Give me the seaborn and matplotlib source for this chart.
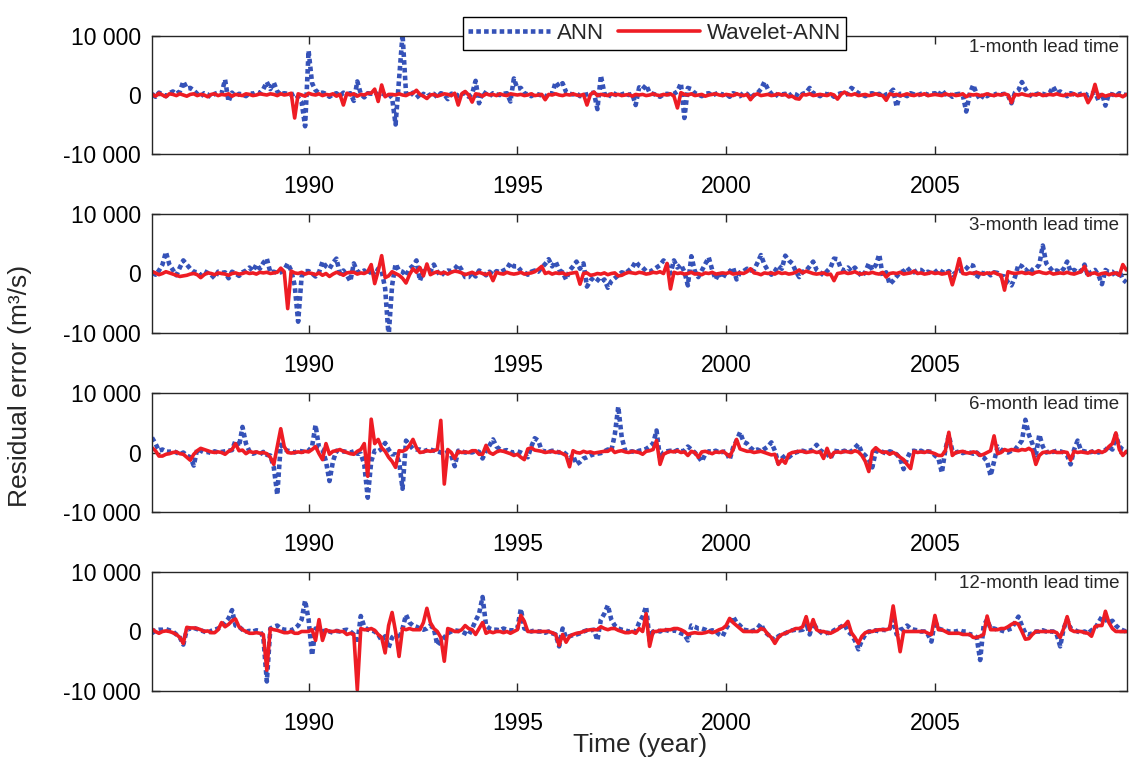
import numpy as np
import pandas as pd
import matplotlib
matplotlib.use("Agg")
import matplotlib.pyplot as plt
import seaborn as sns

# Monthly residuals, April 1986 - August 2009, in thousands of m3/s.
# One row per calendar year (first row starts in April, last row ends in August).
ann_1m = [
    [0.2, -0.3, 0.4, 0.1, -0.2, 0.3, 0.6, 0.2, 0.6],
    [2.3, 1.1, 1.2, 0.8, 0.2, -0.2, 0.3, 0.1, -0.4, 0.2, 0.4, 0.3],
    [2.6, -1.1, 0.4, -0.3, 0.2, 0.1, -0.2, 0.3, 0.2, 0.5, 0.3, 1.0],
    [2.2, 1.0, 2.1, 0.6, 0.1, 0.3, 0.2, 0.0, 0.3, -0.4, -1.2, -5.3],
    [7.5, 2.0, 0.8, 0.3, 0.4, 0.2, -0.3, 0.1, 0.3, -0.2, 0.4, 0.1],
    [0.3, -1.0, 2.3, 0.2, -0.4, 0.3, 0.2, 0.4, 0.1, 0.3, 0.0, 0.2],
    [-0.5, -5.0, 2.6, 10.3, 0.3, -0.2, 0.4, 0.1, -0.6, 0.2, -0.3, 0.1],
    [0.2, -0.4, 0.3, 0.1, -0.7, 0.2, 0.3, -0.2, 0.1, 0.4, -0.3, 0.2],
    [2.4, -1.4, 0.6, 0.2, -0.2, 0.3, 0.1, 0.0, 0.2, 0.3, -1.1, 2.8],
    [1.1, 1.2, 0.3, 0.1, -0.2, 0.2, 0.1, -0.1, -0.4, 0.3, 0.2, 2.2],
    [1.4, 2.0, 0.5, 0.2, 0.1, 0.3, -0.2, 0.0, 0.1, 0.3, 0.4, -2.4],
    [3.3, 0.3, -0.5, 0.4, 0.2, -0.2, 0.1, 0.3, 0.0, 0.2, -1.7, 1.3],
    [1.0, 1.7, 0.4, 0.2, 0.0, -0.3, 0.1, 0.2, 0.1, 0.2, 0.6, 2.0],
    [-3.9, 1.2, 1.0, 0.3, 0.1, -0.2, 0.2, 0.3, -0.1, 0.2, 0.4, 0.0],
    [0.2, -0.3, 0.3, 0.1, -0.2, 0.4, 0.2, -0.5, 0.0, 0.3, 1.0, 2.2],
    [1.0, 0.2, -0.3, 0.3, 0.1, 0.2, -0.2, 0.3, 0.1, -0.3, 0.2, 0.4],
    [1.2, 0.3, 0.1, -0.2, 0.3, 0.1, 0.2, -0.3, 0.1, 0.3, 0.0, 0.2],
    [1.2, 0.8, 0.3, 0.1, -0.2, 0.2, 0.3, 0.0, 0.2, -0.3, 0.1, 0.3],
    [0.9, -2.0, 0.2, 0.1, -0.2, 0.3, 0.1, -0.1, 0.2, 0.3, 0.0, 0.2],
    [0.3, -0.2, 0.8, 0.1, 0.2, -0.3, 0.1, 0.2, 0.0, -2.8, 0.2, 1.7],
    [0.2, -0.8, 0.1, -0.2, 0.2, 0.0, 0.3, 0.1, 0.2, -0.1, -1.4, 0.4],
    [0.8, 2.2, 1.0, 0.2, -0.3, 0.1, 0.3, 0.2, 0.0, 0.4, 1.4, 0.3],
    [0.6, 0.2, -0.2, 0.3, 0.1, 0.0, 0.2, 0.3, -0.1, 0.2, 0.5, -0.9],
    [0.3, -1.8, 0.2, 0.1, -0.2, 0.3, 0.1, 0.0],
]
wann_1m = [
    [0.1, -0.2, 0.3, 0.0, -0.3, 0.2, 0.1, -0.1, 0.2],
    [0.0, -0.2, 0.1, 0.2, -0.1, 0.1, 0.0, -0.3, 0.1, 0.2, -0.1, 0.1],
    [0.0, 0.2, -0.2, 0.1, 0.0, -0.1, 0.2, 0.1, -0.1, 0.0, 0.2, 0.1],
    [0.0, 0.2, 0.1, -0.1, 0.2, 0.0, 0.1, 0.3, -3.9, 0.2, 0.0, -0.2],
    [0.3, 0.1, 0.0, 0.2, -0.1, 0.1, 0.0, 0.2, -0.2, 0.1, -1.7, 0.3],
    [0.0, 0.2, -0.2, 0.1, 0.0, 0.3, 0.3, 1.0, -1.1, 1.7, -0.3, 0.1],
    [0.1, 0.0, 0.2, 0.0, -0.1, 0.2, 0.3, 0.8, 0.1, -0.2, -0.6, 0.0],
    [0.1, -0.2, 0.0, 0.2, 0.1, -0.1, 0.3, -1.7, 0.2, 0.6, 0.0, -1.2],
    [0.2, 0.1, -0.2, 0.2, 0.0, 0.1, -0.1, 0.2, 0.0, -0.1, 0.2, 0.1],
    [0.0, 0.1, -0.1, 0.0, 0.2, -0.1, 0.0, 0.1, -0.8, 0.1, 0.0, 0.2],
    [0.0, -0.1, 0.1, 0.0, 0.2, 0.0, -0.1, 0.1, -1.7, 0.1, 0.5, -0.1],
    [0.1, 0.0, -0.1, 0.2, 0.0, 0.1, -0.1, 0.0, 0.1, -0.2, 0.1, 0.0],
    [0.1, -0.1, 0.0, 0.2, 0.0, -0.1, 0.1, 0.0, 0.2, -0.2, -2.2, 0.4],
    [0.1, 0.0, 0.2, -0.1, 0.0, 0.1, -0.2, 0.0, 0.1, 0.2, 0.0, -0.1],
    [0.1, 0.0, -0.1, 0.2, 0.0, -0.1, 0.1, -0.8, 0.0, 0.2, -0.1, 0.0],
    [0.1, -0.1, 0.0, 0.2, 0.0, 0.1, -0.3, -0.2, -0.6, -0.7, 0.1, 0.0],
    [0.2, -0.1, 0.0, 0.1, 0.0, -0.1, 0.2, 0.0, -0.7, 0.1, 0.5, 0.1],
    [0.0, 0.2, -0.1, 0.0, 0.1, -0.1, 0.0, 0.2, 0.0, -0.1, -0.9, 0.2],
    [0.0, 0.1, -0.1, 0.0, 0.2, 0.0, -0.1, 0.1, 0.0, 0.2, -0.1, 0.0],
    [0.1, 0.0, -0.1, 0.2, 0.0, 0.1, -0.1, 0.0, 0.2, -0.3, 0.1, 0.0],
    [0.1, -0.1, 0.0, 0.2, 0.0, -0.1, 0.1, 0.0, 0.2, 0.0, -1.3, 0.1],
    [0.0, 0.2, 0.0, -0.1, 0.1, 0.0, 0.2, -0.1, 0.0, 0.1, 0.0, 0.2],
    [0.0, -0.1, 0.1, 0.0, 0.2, -0.1, 0.0, 0.1, -1.3, -0.3, 1.8, -0.4],
    [0.1, -0.2, 0.0, 0.1, -0.1, 0.0, -0.3, 0.1],
]

ann_3m = [
    [0.3, -0.2, 0.5, 1.5, 3.6, 1.5, 0.6, -0.3, 1.0],
    [2.2, 1.5, 0.8, 0.3, 0.2, -0.3, 0.4, 0.1, -0.2, -0.8, 0.3, 0.1],
    [0.2, -0.8, 0.3, 0.0, -0.4, 0.2, 0.5, 1.0, 0.4, 1.5, 0.8, 1.8],
    [2.5, 0.2, 0.3, 0.1, 0.2, 0.6, 1.7, 0.5, -2.0, -8.1, -0.5, 0.4],
    [0.4, 0.0, -0.5, 0.2, 2.0, 1.2, 0.8, 1.8, 2.5, 0.0, 0.5, -0.3],
    [-1.3, 1.7, 0.3, 0.2, 0.5, -0.2, 0.6, -0.3, 0.8, 0.4, -2.5, -10.6],
    [-2.0, 1.6, 0.5, 0.3, -0.4, 0.8, 1.3, 2.2, -1.2, 0.4, 0.3, 0.3],
    [1.5, 0.3, -0.4, 0.2, 0.5, 0.4, 0.8, 1.5, 0.6, -0.6, -0.6, 0.2],
    [-0.5, 0.5, 0.2, -0.3, 0.3, -0.2, 0.4, 0.2, 0.5, 0.8, 1.8, 1.2],
    [1.2, 0.5, 0.2, -0.2, 0.3, 0.5, 0.3, 1.0, 1.6, 2.4, 1.2, 2.0],
    [0.6, 0.2, -1.0, 0.5, 1.2, 2.0, 0.8, 1.7, -2.2, -1.2, -0.6, -1.0],
    [-1.5, -1.0, -2.4, -1.3, -0.8, -0.3, 0.2, 0.0, 0.5, 1.0, 2.0, 1.3],
    [1.0, 0.4, 0.3, 0.6, 1.0, 1.4, 2.2, 1.5, 0.0, 2.2, 1.0, 1.5],
    [0.3, -2.0, 2.9, 0.4, -0.6, 0.5, 1.6, 2.7, 0.6, -1.0, 0.2, -0.8],
    [0.2, 0.3, 1.0, -1.0, 0.2, 0.4, 0.8, 0.5, 0.6, 1.8, 3.1, 1.5],
    [0.5, -0.2, 0.4, 1.3, 0.8, 3.0, 2.2, 1.7, 0.4, -0.6, 0.3, 0.5],
    [1.2, 2.0, 0.6, 0.2, -0.3, 0.4, 1.0, 2.5, 2.4, 0.8, 0.5, 1.0],
    [0.4, 1.0, 0.2, -0.5, 0.3, 1.7, 0.6, 1.4, 3.2, -0.4, 0.2, -1.8],
    [-1.2, -0.5, 0.2, 0.4, 1.0, 0.3, 0.2, 0.6, 0.6, 0.1, 0.3, 0.0],
    [0.2, 0.7, 0.3, 0.0, 0.4, -0.3, 0.2, 0.5, 0.3, 0.8, 1.5, 1.3],
    [-0.8, 0.2, 0.0, 0.3, -0.3, 0.2, 0.1, -0.4, -0.5, -1.5, -2.0, -0.6],
    [1.5, 1.2, 0.4, 1.0, 0.5, 0.8, 1.5, 4.7, 1.7, 1.0, 0.3, 0.5],
    [0.2, 0.8, 2.0, 0.3, 0.6, 0.2, 0.4, 1.5, -0.5, 0.3, 0.6, -0.3],
    [-1.8, 0.6, 0.2, 0.3, -0.6, 0.4, -1.0, -1.5],
]
wann_3m = [
    [0.3, 0.1, -0.2, 0.0, 0.3, 0.1, -0.1, -0.3, -0.5],
    [-0.4, -0.3, -0.1, 0.0, -0.2, -0.7, -0.2, 0.1, 0.0, -0.2, 0.1, 0.0],
    [-0.1, -0.3, 0.0, 0.1, -0.1, 0.0, 0.2, 0.0, 0.1, -0.1, 0.2, 0.1],
    [0.2, 0.0, 0.1, 0.2, 0.9, 0.3, -5.9, 0.4, 0.1, 0.0, 0.2, -0.1],
    [0.1, 0.0, -0.2, 0.1, -0.3, 0.0, -0.5, -0.1, 0.2, 0.0, -0.3, 0.1],
    [0.2, 0.2, -0.1, 0.1, 0.0, 0.3, 1.5, -1.7, 0.4, 3.0, -0.7, -0.4],
    [0.3, 0.0, -0.3, -0.8, -1.6, -0.2, 0.8, 0.2, 1.0, -0.4, 1.6, -0.2],
    [0.1, 0.3, 0.0, 0.2, -0.1, 0.2, 0.4, 0.3, 0.1, -0.2, 0.0, 0.2],
    [-0.1, 0.2, 0.0, -0.2, 0.1, -1.2, 0.2, 0.0, -0.1, 0.2, 0.0, -0.1],
    [0.0, 0.2, -0.1, 0.0, 0.1, 0.3, 0.7, 1.2, 0.0, 0.2, -0.1, 0.1],
    [0.0, 0.1, -0.2, 0.0, 0.1, 0.2, -1.8, 0.0, 0.1, -0.3, -0.2, 0.0],
    [-0.1, 0.1, -0.2, 0.0, 0.1, -0.4, -0.3, 0.0, 0.2, 0.1, 0.0, 0.2],
    [0.1, -0.1, 0.0, 0.2, 0.1, 0.3, 0.0, 1.7, -2.6, 0.2, 0.0, 0.1],
    [-0.1, 0.0, 0.2, -0.1, 0.0, -0.2, 0.1, 0.0, 0.2, -0.1, 0.0, 0.1],
    [0.0, 0.2, -0.1, 0.0, 0.1, 0.0, 0.3, 0.8, 0.1, 0.0, -0.2, 0.1],
    [0.0, 0.1, -0.1, 0.2, 0.0, 0.1, -0.1, 0.0, 0.2, 0.6, 0.1, 0.4],
    [0.2, 0.0, -0.1, 0.0, 0.1, -0.2, -0.1, -1.2, 0.0, 0.1, 0.2, 0.0],
    [0.1, 0.3, 0.0, -0.1, 0.1, 0.0, 0.2, 0.0, -0.1, 0.2, -0.6, 0.0],
    [0.1, 0.0, 0.2, -0.1, 0.0, 0.1, 0.4, 0.0, 0.1, -0.1, 0.0, 0.2],
    [0.0, 0.1, -0.1, 0.0, 0.2, -1.9, 0.1, 2.5, 0.0, -0.1, 0.1, 0.0],
    [0.2, 0.0, -0.1, 0.1, 0.0, 0.2, -0.1, -0.3, -2.8, 0.3, 0.1, 0.0],
    [0.1, 0.2, 0.0, 0.1, -0.1, 0.2, 0.3, 0.1, 0.0, 0.2, -0.1, 0.0],
    [0.1, 0.0, 0.2, 0.0, -0.1, 0.1, 0.3, 1.2, -0.3, 0.0, 0.1, -0.2],
    [0.0, 0.1, -0.2, 0.0, 0.1, -0.3, 1.5, 0.6],
]

ann_6m = [
    [2.5, 1.5, 0.3, 0.5, 0.2, 0.1, 0.3, 0.0, -0.3],
    [0.0, -0.5, -0.8, -2.2, 0.6, 0.3, 0.0, 0.1, -0.1, 0.2, 0.0, 0.1],
    [0.2, 0.3, 0.4, 2.0, 1.0, 4.3, 1.5, 0.2, -0.2, 0.0, -0.3, 0.1],
    [-0.4, -0.5, -2.5, -7.1, 1.3, 0.5, 0.3, 0.2, 0.0, 0.3, 0.2, 0.1],
    [0.3, 1.0, 4.6, 0.8, 0.5, -1.5, -4.8, -1.5, 0.3, 0.0, 0.2, 0.1],
    [0.0, 0.2, -0.2, -0.2, -2.0, -7.6, -1.5, 0.3, 0.2, 0.6, 1.6, 0.5],
    [-0.3, -0.3, -1.5, -6.1, 2.0, 1.3, 0.6, 0.5, 0.5, 0.2, 0.4, 0.5],
    [0.3, 0.2, 0.0, -0.2, 0.1, -0.5, -2.3, 0.3, 0.2, 0.0, 0.1, 0.0],
    [0.3, 0.1, -1.0, 0.3, 1.2, 2.2, 1.0, 0.5, 0.3, 0.4, 0.1, 0.0],
    [0.2, 0.0, -0.3, -0.8, 1.0, 2.4, 2.0, 0.3, 0.2, 0.1, 0.3, 0.2],
    [0.0, 0.2, -0.3, -1.0, -0.5, -2.0, -1.6, -1.0, -0.8, -0.5, -0.3, -0.2],
    [-0.1, 0.2, 0.5, 0.3, 3.0, 7.7, 2.5, 0.3, 0.1, 0.2, 0.0, 0.3],
    [0.4, 0.6, 1.0, 1.5, 3.7, -1.0, 0.0, 0.2, 0.3, 0.1, 0.4, 0.2],
    [0.3, 1.0, 0.5, 0.0, -0.7, -1.5, -0.3, 0.2, 0.1, 0.3, 0.0, 0.1],
    [0.2, -1.2, 0.8, 2.0, 3.4, 1.8, 1.5, 0.8, 0.3, 0.5, 0.2, 0.6],
    [1.0, 1.7, 0.3, -1.8, -1.0, -0.5, -0.8, -0.3, 0.0, 0.2, 0.3, 0.1],
    [0.3, 0.5, 1.3, 0.4, 0.0, -0.2, -1.0, 0.3, 0.2, 0.1, 0.3, 0.0],
    [0.2, 0.8, 1.4, 0.0, -0.5, -1.2, -2.5, 0.2, 0.3, 0.1, -0.2, 0.2],
    [0.0, -0.3, -1.0, -2.8, -1.0, 0.2, 0.3, 0.1, 0.3, 0.0, 0.2, 0.1],
    [-0.5, -1.0, -3.4, 0.5, 2.9, 0.3, 0.0, 0.2, -0.1, 0.1, 0.0, -0.2],
    [0.0, -0.5, -0.8, -1.5, -3.9, -1.5, 1.0, 0.5, 0.2, 0.0, 0.3, 0.5],
    [1.2, 2.0, 5.5, 3.0, 1.5, -0.5, 3.0, 1.0, 0.0, 0.2, 0.1, 0.3],
    [0.2, 0.0, -0.5, -2.0, 0.5, 2.0, 0.3, 0.2, 0.0, 0.1, 0.3, 0.0],
    [0.2, 0.4, 1.0, 0.5, 3.0, 1.0, 0.5, 0.3],
]
wann_6m = [
    [0.8, 0.3, -0.6, -0.6, -0.3, -0.2, 0.0, 0.1, -0.2],
    [-0.3, -0.8, -1.3, -0.3, 0.3, 0.7, 0.5, 0.3, 0.1, 0.0, 0.1, 0.0],
    [-0.3, 0.2, 0.5, 1.5, 0.3, 0.4, -0.2, 0.2, 0.0, 0.1, -0.1, 0.0],
    [-0.2, -0.8, -2.0, 1.0, 4.0, 1.0, 0.0, -0.1, 0.0, 0.1, 0.0, 0.2],
    [0.1, 0.5, 1.0, -0.2, -1.2, 1.5, -0.3, 0.2, 0.3, 0.5, 0.2, 0.0],
    [-0.2, -0.3, 0.2, 0.5, 1.5, -4.0, 5.6, 1.5, 2.2, 0.8, 0.2, -0.8],
    [-1.5, -2.5, 0.3, 0.2, 0.5, 1.2, 2.2, 0.8, 0.0, 0.1, 0.3, 0.2],
    [0.3, 0.5, 5.4, -5.3, 0.5, 0.0, -1.0, 0.2, 0.0, 0.1, 0.0, 0.3],
    [0.3, -0.3, -0.3, 1.2, 0.0, -0.3, 0.1, 0.3, 0.2, 0.0, -0.2, -0.5],
    [-0.3, -0.8, -1.2, 0.6, 0.8, 0.4, 0.3, 0.2, 0.0, 0.1, 0.2, 0.0],
    [0.1, -0.2, -0.5, -2.4, 0.3, 0.0, -0.1, 0.2, 0.0, 0.1, -0.1, 0.0],
    [0.1, 0.2, 0.2, 0.6, 0.0, 0.2, 0.3, 0.1, 0.0, 0.2, 0.1, 0.0],
    [-0.3, 0.2, 0.3, 0.5, 2.0, -2.0, -0.3, 0.0, 0.2, 0.1, 0.3, 0.0],
    [0.1, -0.5, 0.2, 0.0, -0.8, 0.1, 0.2, 0.0, -0.2, 0.1, 0.0, 0.2],
    [-0.2, -0.7, 0.5, 2.2, 0.6, 0.4, 0.2, 0.2, 0.0, 0.1, 0.2, 0.0],
    [-0.2, -0.4, -0.3, -2.0, -1.2, -1.8, -0.3, 0.0, 0.1, 0.2, 0.2, 0.0],
    [0.1, 0.2, 0.0, 0.1, -1.0, 0.7, -0.8, 0.0, 0.1, 0.0, 0.2, 0.1],
    [0.0, 0.3, 0.1, -0.5, -1.5, -3.2, 0.2, 0.8, 0.3, 0.0, 0.1, -0.3],
    [0.0, -0.3, -0.8, -1.2, -2.0, -2.7, 0.2, 0.0, 0.1, 0.0, 0.2, 0.0],
    [-0.2, -0.5, -0.5, 0.3, 3.4, -0.5, 0.0, 0.1, 0.2, 0.0, -0.1, 0.1],
    [0.0, -0.5, -0.3, 0.0, 0.3, 2.8, -0.2, 0.0, 0.5, 0.3, 0.5, 0.4],
    [0.3, 0.5, 0.4, 0.7, 0.3, -2.0, -0.5, 0.0, 0.1, 0.0, 0.2, 0.0],
    [0.0, 0.1, 0.0, -1.3, 0.2, 0.0, 0.1, 0.0, -0.1, 0.2, 0.0, 0.3],
    [0.0, 0.3, 1.0, 1.5, 3.3, 0.5, -0.5, 0.2],
]

ann_12m = [
    [-0.3, 0.2, 0.3, 0.3, 0.4, 0.2, 0.0, -0.5, -1.0],
    [-2.2, 0.3, 0.5, 0.6, 0.4, 0.2, 0.0, -0.3, 0.1, 0.3, 0.5, 0.8],
    [1.5, 2.2, 3.6, 1.0, 0.8, 0.3, 0.0, 0.1, 0.0, 0.2, 0.1, -1.0],
    [-8.4, 0.5, 0.8, 1.0, 0.5, 0.3, 0.3, 0.2, 0.5, 1.0, 2.0, 5.2],
    [2.0, -4.0, 0.5, 0.3, 0.0, 0.2, 0.0, -0.2, 0.1, 0.0, 0.2, 0.3],
    [0.0, -0.5, -2.0, 2.6, 0.8, 0.3, 0.2, 0.0, -0.5, -1.5, -0.8, -2.7],
    [-1.0, -0.5, -1.3, 0.5, 2.8, 1.5, 1.0, 0.8, 0.5, 0.3, 0.5, 1.0],
    [0.5, -2.3, -1.5, -1.0, -0.3, 0.0, 0.2, 0.1, 0.0, -0.3, -0.6, 0.5],
    [1.8, 3.0, 5.8, 1.0, 0.5, 0.3, 0.3, 0.2, 0.5, 0.3, 0.2, 0.2],
    [0.5, 3.8, 0.5, 0.3, 0.0, 0.2, 0.0, 0.0, -0.2, 0.0, -0.3, -0.5],
    [-2.5, 0.5, -1.0, -0.8, -0.6, -0.5, -0.3, 0.0, 0.2, 0.2, 0.3, -1.5],
    [2.0, 3.0, 4.4, 2.0, 1.0, 0.5, 0.3, 0.2, 0.0, 0.2, 0.0, 1.5],
    [2.5, 4.2, -1.5, 0.0, 0.2, 0.0, 0.3, 0.2, 0.0, 0.2, 0.0, -0.3],
    [-0.5, -1.5, 1.0, 0.8, 0.5, 0.5, 0.3, 0.0, 0.2, 0.0, -0.5, -0.8],
    [0.5, 1.5, 2.5, 1.5, 1.0, 0.3, 0.2, 0.0, 0.2, 0.5, 1.3, 0.0],
    [-0.5, -1.0, -1.5, -0.8, -0.5, -0.3, 0.0, 0.2, 0.3, 0.2, 0.3, 1.5],
    [-0.5, 1.5, 0.5, 0.0, -0.5, -0.2, -0.3, 0.2, 0.5, 0.8, 1.2, 0.0],
    [-0.5, -1.5, -3.0, -1.5, -0.5, 0.0, 0.0, 0.2, 0.0, 0.3, 0.2, 0.5],
    [2.0, -0.5, 0.3, 0.5, 1.0, 0.5, 0.3, 0.2, 0.0, 0.0, -0.5, -1.7],
    [1.8, 0.5, 0.3, 0.2, 0.0, 0.0, 0.0, 0.2, 0.0, 0.0, -0.5, -0.5],
    [-1.0, -4.8, 1.0, 2.0, 0.5, 0.5, 0.3, 0.2, 0.0, 0.3, 0.5, 1.5],
    [2.5, 1.0, -0.3, -0.5, -0.3, 0.0, 0.0, 0.2, 0.0, 0.0, 0.0, -0.5],
    [-2.5, 0.5, 2.0, 0.5, 0.3, 0.0, -0.2, 0.0, -0.3, 0.2, 0.5, 1.5],
    [2.5, 2.0, 1.5, 1.8, 1.0, 0.5, 0.2, 0.0],
]
wann_12m = [
    [0.4, 0.0, -0.3, 0.0, 0.1, 0.0, -0.2, -0.5, -1.0],
    [-2.0, 0.7, 0.6, 0.6, 0.5, 0.3, 0.0, 0.1, -0.2, -0.2, 0.3, 1.5],
    [0.8, 1.2, 1.8, 2.1, 0.8, 0.3, 0.0, -0.3, -0.3, -0.2, -0.3, -0.5],
    [-6.5, 0.5, 0.3, 0.2, 0.0, -0.2, -0.2, 0.0, -0.3, -0.3, 0.0, 0.0],
    [0.0, 0.3, -1.5, 2.0, -1.5, 0.3, 0.0, 0.0, 0.1, 0.0, 0.0, -0.5],
    [-0.3, -0.5, -9.8, 0.5, 0.3, 0.3, 0.5, 0.2, -0.5, -1.0, -3.6, 1.0],
    [3.2, 0.0, -4.2, 0.5, 0.3, 0.5, 0.3, 0.3, 0.3, 1.5, 3.9, 1.5],
    [0.5, 0.0, -1.0, -5.0, 0.5, 0.3, 0.0, 0.0, 0.3, 1.0, 0.5, 0.3],
    [-0.5, 0.5, 1.5, -0.3, 0.0, -0.2, 0.0, 0.0, -0.2, 0.0, -0.3, 0.0],
    [0.3, 2.7, 1.7, 0.0, 0.0, 0.0, 0.0, 0.0, 0.0, 0.0, -0.2, -0.5],
    [-2.3, -0.5, -1.8, -0.8, -0.5, -0.3, -0.2, 0.0, 0.2, 0.3, 0.3, 0.3],
    [0.8, 0.5, 0.3, 0.5, 0.5, 0.2, 0.0, -0.2, -0.2, 0.0, -0.3, 0.5],
    [0.0, 3.0, -2.5, 0.0, 0.0, 0.2, 0.2, 0.3, 0.3, 0.5, 0.5, 0.3],
    [0.0, -0.5, -0.3, -0.2, -0.3, -0.3, -0.2, 0.0, -0.2, 0.0, 0.3, 0.5],
    [1.0, 2.2, 1.5, 1.0, 0.5, 0.0, 0.0, 0.0, 0.0, 0.0, 0.5, 0.3],
    [-0.5, -1.0, -2.0, -1.0, -0.5, -0.3, 0.0, 0.2, 0.5, 0.5, 0.8, 2.5],
    [0.2, 2.0, 0.3, 0.0, 0.0, -0.2, -0.3, 0.0, 0.3, 0.8, 1.0, 1.7],
    [-0.2, -1.0, -2.0, -0.8, -0.2, 0.0, 0.0, 0.2, 0.3, 0.3, 0.3, 0.5],
    [4.3, 0.5, -3.4, 0.0, 0.0, 0.0, 0.0, 0.0, 0.0, 0.0, -0.3, -0.5],
    [2.7, 0.3, 0.3, 0.0, -0.3, -0.3, -0.3, -0.3, -0.5, -0.5, -0.5, -1.0],
    [-1.0, -0.8, -0.5, 2.6, 0.3, 0.3, 0.3, 0.5, 0.5, 0.8, 1.2, 1.5],
    [1.2, 0.0, -1.3, -1.2, -0.5, 0.0, 0.0, 0.0, 0.0, 0.0, 0.0, -0.2],
    [-1.0, 0.5, 2.5, 0.3, 0.0, 0.0, 0.0, -0.2, -0.3, -0.8, 0.8, 1.0],
    [1.0, 3.4, 1.5, 0.5, 0.0, 0.0, 0.0, 0.0],
]

panel_labels = ["1-month lead time", "3-month lead time",
                "6-month lead time", "12-month lead time"]
year_ticks = [1990, 1995, 2000, 2005]
y_ticks = [-10000, 0, 10000]
y_tick_labels = ["-10 000", "0", "10 000"]

START_YEAR = 1986.25  # April 1986


def to_frame(rows_ann, rows_wav):
    ann = np.concatenate([np.asarray(r, float) for r in rows_ann]) * 1000.0
    wav = np.concatenate([np.asarray(r, float) for r in rows_wav]) * 1000.0
    t = START_YEAR + np.arange(ann.size) / 12.0
    return pd.DataFrame({"time": t, "ANN": ann, "Wavelet-ANN": wav})


frames = [to_frame(ann_1m, wann_1m), to_frame(ann_3m, wann_3m),
          to_frame(ann_6m, wann_6m), to_frame(ann_12m, wann_12m)]

sns.set_theme(style="ticks")
plt.rcParams["font.family"] = ["Liberation Sans", "DejaVu Sans"]

BLUE = "#3552B8"
RED = "#EE1C24"
EDGE = "#262626"

fig = plt.figure(figsize=(11.29, 7.72), dpi=100)
W, H = 1129.0, 772.0
left, right = 152, 1127
panel_px = [(36, 154), (214, 333), (393, 512), (572, 691)]

for k, (top, bottom) in enumerate(panel_px):
    ax = fig.add_axes([left / W, 1 - bottom / H, (right - left) / W, (bottom - top) / H])
    df = frames[k]
    sns.lineplot(data=df, x="time", y="ANN", ax=ax, color=BLUE, lw=3.3,
                 linestyle=(0, (1.0, 0.7)), estimator=None, label="ANN",
                 legend=False)
    sns.lineplot(data=df, x="time", y="Wavelet-ANN", ax=ax, color=RED, lw=2.6,
                 estimator=None, label="Wavelet-ANN", legend=False)
    ax.set_xlim(1986.25, 2009.6)
    ax.set_ylim(-10000, 10000)
    ax.set_xticks(year_ticks)
    ax.set_xticklabels([str(y) for y in year_ticks])
    ax.set_yticks(y_ticks)
    ax.set_yticklabels(y_tick_labels)
    ax.set_xlabel("")
    ax.set_ylabel("")
    ax.tick_params(direction="in", top=True, right=True, length=6, width=1.0,
                   colors=EDGE, labelsize=16.5, labelcolor="black", pad=8)
    ax.tick_params(axis="x", pad=15)
    for s in ax.spines.values():
        s.set_color(EDGE)
        s.set_linewidth(1.0)
    ax.text(0.992, 0.975, panel_labels[k], transform=ax.transAxes,
            ha="right", va="top", fontsize=13.5)
    if k == 0:
        handles, labels = ax.get_legend_handles_labels()

leg = fig.legend(handles, labels, loc="center", ncol=2,
                 bbox_to_anchor=(654.5 / W, 1 - 33.5 / H), fontsize=16,
                 frameon=True, fancybox=False, framealpha=1.0,
                 edgecolor="black", handlelength=3.7, handletextpad=0.3,
                 columnspacing=0.6, borderpad=0.25)
leg.get_frame().set_linewidth(1.0)

fig.text(20 / W, 0.5, "Residual error (m\u00b3/s)", rotation=90,
         ha="center", va="center", fontsize=19)
fig.text(640 / W, 1 - 745 / H, "Time (year)", ha="center", va="center",
         fontsize=19)

fig.savefig("out.png", dpi=100)
